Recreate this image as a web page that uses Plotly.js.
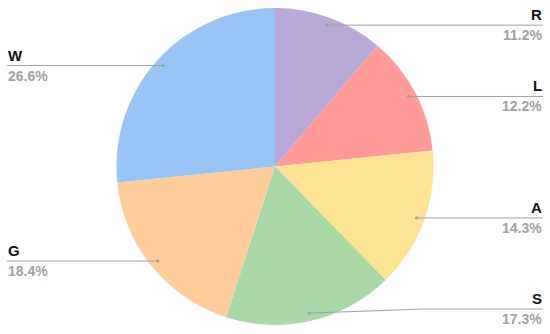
<!DOCTYPE html>
<html>
<head>
<meta charset="utf-8">
<script src="https://cdn.plot.ly/plotly-3.0.1.min.js"></script>
<style>html,body{margin:0;padding:0;background:#fff}#chart{width:550px;height:334px}</style>
</head>
<body>
<div id="chart"></div>
<script>
const categories = ["R", "L", "A", "S", "G", "W"];
const values = [11.2, 12.2, 14.3, 17.3, 18.4, 26.6];
const percentLabels = ["11.2%", "12.2%", "14.3%", "17.3%", "18.4%", "26.6%"];
const colors = ["#B9A9D9", "#FF9A99", "#FFE394", "#A8D8A6", "#FFCC9A", "#97C4F5"];

const W = 550, H = 334;
const cx = 275, cy = 166.5, R = 158.5;
const leftEdge = 7, rightEdge = 543;

const total = values.reduce((a, b) => a + b, 0);
const shapes = [], annotations = [];
let cum = 0;
values.forEach((v, i) => {
  const mid = (cum + v / 2) / total * 2 * Math.PI;
  cum += v;
  const dx = Math.sin(mid), dy = -Math.cos(mid);
  const px = cx + dx * R * 0.95, py = cy + dy * R * 0.95;
  const right = dx >= 0;
  const ly = Math.min(py, 309);
  const ex = right ? rightEdge : leftEdge;
  const elbowX = right ? Math.max(px, ex - 120) : Math.min(px, ex + 120);
  const fx = x => x / W, fy = y => 1 - y / H;
  shapes.push({type: "path", xref: "paper", yref: "paper",
    path: `M${fx(px)},${fy(py)} L${fx(elbowX)},${fy(ly)} L${fx(ex)},${fy(ly)}`,
    line: {color: "#A0A0A0", width: 1}});
  shapes.push({type: "circle", xref: "paper", yref: "paper",
    x0: fx(px - 1.6), x1: fx(px + 1.6), y0: fy(py + 1.6), y1: fy(py - 1.6),
    fillcolor: "#A0A0A0", line: {width: 0}});
  annotations.push({xref: "paper", yref: "paper", x: fx(ex), y: fy(ly - 1),
    xanchor: right ? "right" : "left", yanchor: "bottom", showarrow: false,
    text: "<b>" + categories[i] + "</b>", borderpad: 0,
    font: {family: "Liberation Sans, Arial, sans-serif", size: 15, color: "#111"}});
  annotations.push({xref: "paper", yref: "paper", x: fx(ex), y: fy(ly + 1),
    xanchor: right ? "right" : "left", yanchor: "top", showarrow: false,
    text: "<b>" + percentLabels[i] + "</b>", borderpad: 0,
    font: {family: "Liberation Sans, Arial, sans-serif", size: 14, color: "#A0A0A0"}});
});

const trace = {
  type: "pie", labels: categories, values: values,
  marker: {colors: colors, line: {width: 0}},
  sort: false, direction: "clockwise", rotation: 0,
  textinfo: "none", hoverinfo: "none",
  domain: {x: [(cx - R) / W, (cx + R) / W], y: [1 - (cy + R) / H, 1 - (cy - R) / H]}
};

Plotly.newPlot("chart", [trace], {
  width: W, height: H, margin: {l: 0, r: 0, t: 0, b: 0},
  showlegend: false, paper_bgcolor: "#fff",
  shapes: shapes, annotations: annotations
}, {staticPlot: true});
</script>
</body>
</html>
